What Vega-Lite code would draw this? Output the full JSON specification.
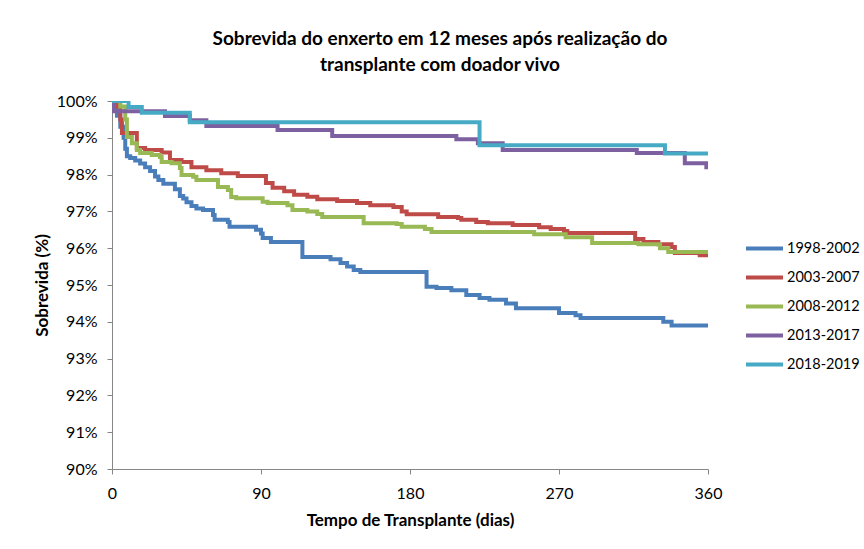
{
  "$schema": "https://vega.github.io/schema/vega-lite/v6.json",
  "width": 596,
  "height": 368,
  "autosize": "none",
  "padding": {"left": 112, "top": 101, "right": 156, "bottom": 80},
  "background": "white",
  "config": {"font": "Lato", "view": {"stroke": null}},
  "title": {
    "text": ["Sobrevida do enxerto em 12 meses após realização do", "transplante com doador vivo"],
    "fontSize": 19, "fontWeight": "bold", "font": "Lato", "color": "#000000",
    "lineHeight": 26, "offset": 18, "dx": 30, "anchor": "middle"
  },
  "data": {"values": [
    {"g":"1998-2002","d":0,"s":100},{"g":"1998-2002","d":1,"s":99.8},{"g":"1998-2002","d":3,"s":99.6},{"g":"1998-2002","d":5,"s":99.3},{"g":"1998-2002","d":7,"s":99.0},{"g":"1998-2002","d":8,"s":98.7},{"g":"1998-2002","d":9,"s":98.5},{"g":"1998-2002","d":11,"s":98.45},{"g":"1998-2002","d":14,"s":98.38},{"g":"1998-2002","d":17,"s":98.3},{"g":"1998-2002","d":20,"s":98.2},{"g":"1998-2002","d":23,"s":98.1},{"g":"1998-2002","d":26,"s":97.95},{"g":"1998-2002","d":28,"s":97.85},{"g":"1998-2002","d":31,"s":97.75},{"g":"1998-2002","d":38,"s":97.6},{"g":"1998-2002","d":41,"s":97.42},{"g":"1998-2002","d":43,"s":97.35},{"g":"1998-2002","d":45,"s":97.25},{"g":"1998-2002","d":48,"s":97.15},{"g":"1998-2002","d":51,"s":97.08},{"g":"1998-2002","d":55,"s":97.04},{"g":"1998-2002","d":61,"s":96.9},{"g":"1998-2002","d":62,"s":96.77},{"g":"1998-2002","d":70,"s":96.71},{"g":"1998-2002","d":71,"s":96.58},{"g":"1998-2002","d":87,"s":96.5},{"g":"1998-2002","d":90,"s":96.4},{"g":"1998-2002","d":91,"s":96.28},{"g":"1998-2002","d":96,"s":96.17},{"g":"1998-2002","d":115,"s":95.76},{"g":"1998-2002","d":132,"s":95.7},{"g":"1998-2002","d":138,"s":95.6},{"g":"1998-2002","d":142,"s":95.5},{"g":"1998-2002","d":146,"s":95.41},{"g":"1998-2002","d":150,"s":95.35},{"g":"1998-2002","d":190,"s":94.95},{"g":"1998-2002","d":196,"s":94.92},{"g":"1998-2002","d":205,"s":94.86},{"g":"1998-2002","d":214,"s":94.73},{"g":"1998-2002","d":222,"s":94.65},{"g":"1998-2002","d":228,"s":94.6},{"g":"1998-2002","d":238,"s":94.5},{"g":"1998-2002","d":244,"s":94.37},{"g":"1998-2002","d":270,"s":94.24},{"g":"1998-2002","d":280,"s":94.18},{"g":"1998-2002","d":283,"s":94.1},{"g":"1998-2002","d":333,"s":94.0},{"g":"1998-2002","d":338,"s":93.9},{"g":"1998-2002","d":360,"s":93.9},
    {"g":"2003-2007","d":0,"s":100},{"g":"2003-2007","d":3,"s":99.85},{"g":"2003-2007","d":5,"s":99.5},{"g":"2003-2007","d":6,"s":99.13},{"g":"2003-2007","d":15,"s":98.72},{"g":"2003-2007","d":20,"s":98.67},{"g":"2003-2007","d":30,"s":98.6},{"g":"2003-2007","d":35,"s":98.4},{"g":"2003-2007","d":42,"s":98.34},{"g":"2003-2007","d":48,"s":98.2},{"g":"2003-2007","d":57,"s":98.12},{"g":"2003-2007","d":66,"s":98.04},{"g":"2003-2007","d":76,"s":97.96},{"g":"2003-2007","d":93,"s":97.77},{"g":"2003-2007","d":97,"s":97.64},{"g":"2003-2007","d":104,"s":97.55},{"g":"2003-2007","d":110,"s":97.45},{"g":"2003-2007","d":118,"s":97.4},{"g":"2003-2007","d":124,"s":97.33},{"g":"2003-2007","d":136,"s":97.28},{"g":"2003-2007","d":148,"s":97.23},{"g":"2003-2007","d":156,"s":97.17},{"g":"2003-2007","d":170,"s":97.12},{"g":"2003-2007","d":175,"s":97.0},{"g":"2003-2007","d":178,"s":96.92},{"g":"2003-2007","d":197,"s":96.85},{"g":"2003-2007","d":209,"s":96.82},{"g":"2003-2007","d":211,"s":96.77},{"g":"2003-2007","d":220,"s":96.71},{"g":"2003-2007","d":227,"s":96.68},{"g":"2003-2007","d":242,"s":96.63},{"g":"2003-2007","d":258,"s":96.57},{"g":"2003-2007","d":265,"s":96.52},{"g":"2003-2007","d":273,"s":96.47},{"g":"2003-2007","d":275,"s":96.41},{"g":"2003-2007","d":316,"s":96.25},{"g":"2003-2007","d":321,"s":96.17},{"g":"2003-2007","d":330,"s":96.11},{"g":"2003-2007","d":338,"s":96.03},{"g":"2003-2007","d":340,"s":95.87},{"g":"2003-2007","d":355,"s":95.81},{"g":"2003-2007","d":360,"s":95.81},
    {"g":"2008-2012","d":0,"s":100},{"g":"2008-2012","d":5,"s":99.85},{"g":"2008-2012","d":8,"s":99.5},{"g":"2008-2012","d":9,"s":99.02},{"g":"2008-2012","d":12,"s":98.85},{"g":"2008-2012","d":15,"s":98.67},{"g":"2008-2012","d":17,"s":98.59},{"g":"2008-2012","d":24,"s":98.53},{"g":"2008-2012","d":29,"s":98.48},{"g":"2008-2012","d":30,"s":98.34},{"g":"2008-2012","d":36,"s":98.31},{"g":"2008-2012","d":41,"s":98.18},{"g":"2008-2012","d":42,"s":97.99},{"g":"2008-2012","d":49,"s":97.94},{"g":"2008-2012","d":51,"s":97.85},{"g":"2008-2012","d":64,"s":97.66},{"g":"2008-2012","d":70,"s":97.58},{"g":"2008-2012","d":72,"s":97.39},{"g":"2008-2012","d":75,"s":97.36},{"g":"2008-2012","d":91,"s":97.26},{"g":"2008-2012","d":94,"s":97.23},{"g":"2008-2012","d":106,"s":97.17},{"g":"2008-2012","d":109,"s":97.04},{"g":"2008-2012","d":118,"s":97.0},{"g":"2008-2012","d":124,"s":96.93},{"g":"2008-2012","d":127,"s":96.85},{"g":"2008-2012","d":152,"s":96.68},{"g":"2008-2012","d":172,"s":96.66},{"g":"2008-2012","d":175,"s":96.58},{"g":"2008-2012","d":189,"s":96.52},{"g":"2008-2012","d":193,"s":96.44},{"g":"2008-2012","d":255,"s":96.38},{"g":"2008-2012","d":274,"s":96.3},{"g":"2008-2012","d":290,"s":96.14},{"g":"2008-2012","d":318,"s":96.11},{"g":"2008-2012","d":331,"s":96.0},{"g":"2008-2012","d":336,"s":95.9},{"g":"2008-2012","d":360,"s":95.9},
    {"g":"2013-2017","d":0,"s":99.95},{"g":"2013-2017","d":1,"s":99.72},{"g":"2013-2017","d":32,"s":99.59},{"g":"2013-2017","d":47,"s":99.48},{"g":"2013-2017","d":57,"s":99.32},{"g":"2013-2017","d":100,"s":99.21},{"g":"2013-2017","d":133,"s":99.05},{"g":"2013-2017","d":208,"s":98.96},{"g":"2013-2017","d":221,"s":98.85},{"g":"2013-2017","d":236,"s":98.67},{"g":"2013-2017","d":317,"s":98.59},{"g":"2013-2017","d":346,"s":98.31},{"g":"2013-2017","d":359,"s":98.2},{"g":"2013-2017","d":360,"s":98.2},
    {"g":"2018-2019","d":0,"s":100},{"g":"2018-2019","d":10,"s":99.84},{"g":"2018-2019","d":18,"s":99.68},{"g":"2018-2019","d":47,"s":99.42},{"g":"2018-2019","d":222,"s":98.8},{"g":"2018-2019","d":334,"s":98.57},{"g":"2018-2019","d":360,"s":98.57}
  ]},
  "mark": {"type": "line", "interpolate": "step-after", "strokeWidth": 4, "clip": true},
  "encoding": {
    "x": {"field": "d", "type": "quantitative",
      "scale": {"domain": [0, 360], "nice": false},
      "axis": {"values": [0, 90, 180, 270, 360], "title": "Tempo de Transplante  (dias)", "grid": false,
        "labelFlush": false,
        "domainColor": "#868686", "tickColor": "#868686", "tickSize": 5, "labelPadding": 11,
        "labelFontSize": 16, "labelColor": "#000000", "labelFont": "Lato",
        "titleFontSize": 17, "titleFontWeight": "bold", "titleColor": "#000000", "titleFont": "Lato", "titlePadding": 11}},
    "y": {"field": "s", "type": "quantitative",
      "scale": {"domain": [90, 100], "nice": false, "zero": false},
      "axis": {"values": [90, 91, 92, 93, 94, 95, 96, 97, 98, 99, 100], "labelExpr": "datum.value + '%'",
        "title": "Sobrevida (%)", "grid": false,
        "domainColor": "#868686", "tickColor": "#868686", "tickSize": 5, "labelPadding": 10,
        "labelFontSize": 16, "labelColor": "#000000", "labelFont": "Lato",
        "titleFontSize": 17, "titleFontWeight": "bold", "titleColor": "#000000", "titleFont": "Lato", "titlePadding": 5}},
    "color": {"field": "g", "type": "nominal",
      "scale": {"domain": ["1998-2002", "2003-2007", "2008-2012", "2013-2017", "2018-2019"],
        "range": ["#4A7EBB", "#BE4B48", "#98B954", "#7D60A0", "#46AAC5"]},
      "legend": {"title": null, "orient": "none", "legendX": 632, "legendY": 127,
        "symbolType": "stroke", "symbolSize": 1369, "symbolStrokeWidth": 4,
        "labelFontSize": 14.5, "labelColor": "#000000", "labelFont": "Lato", "labelOffset": 2, "rowPadding": 0}}
  }
}
